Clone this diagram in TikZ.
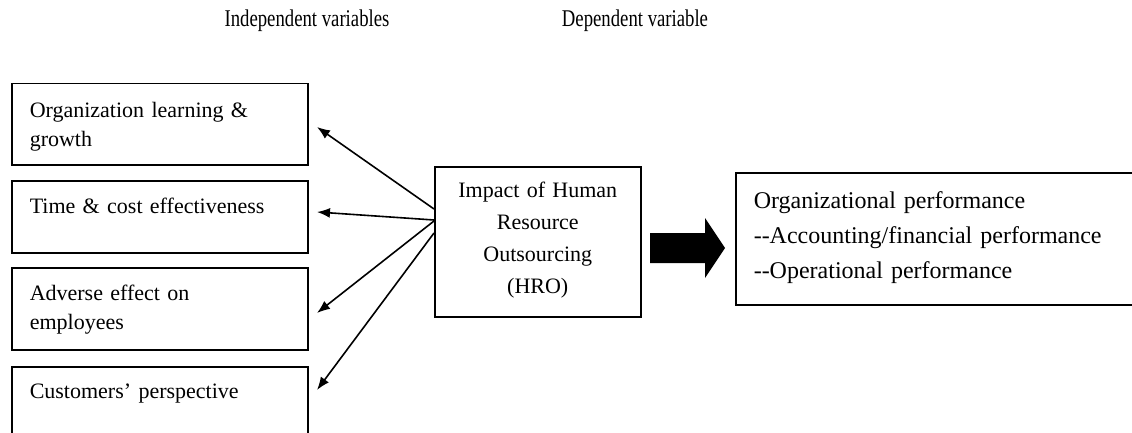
\documentclass[tikz,border=0pt]{standalone}
\usepackage{fontspec}
\setmainfont{Liberation Serif}
\newfontfamily\headfont{Liberation Serif}[FakeStretch=0.78]
\usetikzlibrary{arrows.meta}

\begin{document}
\begin{tikzpicture}[x=1pt, y=-1pt, >={Latex[length=13pt, width=10pt]},
	leftbox/.style={draw, line width=1.5pt, anchor=north west, inner xsep=18pt, inner ysep=0pt, minimum width=296pt, text width=260pt, align=left, font=\fontsize{22}{29}\selectfont},
	headtext/.style={anchor=base, font=\headfont\fontsize{24}{28}\selectfont}]
	\useasboundingbox (0,0) rectangle (1132,433);
	\node[headtext] (indep) at (307,27) {Independent variables};
	\node[headtext] (dep) at (635,27) {Dependent variable};
	\node[leftbox, text height=34pt, text depth=47pt] (learn) at (11,83) {Organization learning \&\\growth};
	\node[leftbox, text height=33pt, text depth=39pt] (cost) at (11,180) {Time \& cost effectiveness};
	\node[leftbox, text height=33pt, text depth=49pt] (adverse) at (11,267) {Adverse effect on\\employees};
	\node[leftbox, text height=32pt, text depth=42pt] (cust) at (11,366) {Customers' perspective};
	\node[draw, line width=1.5pt, anchor=north west, inner xsep=13pt, inner ysep=0pt, text width=180pt, align=center, text height=31pt, text depth=119pt, font=\fontsize{22}{32}\selectfont] (hro) at (434,166) {Impact of Human\\Resource\\Outsourcing\\(HRO)};
	\node[draw, line width=1.5pt, anchor=north west, inner xsep=18pt, inner ysep=0pt, text width=369pt, align=left, text height=36pt, text depth=96pt, font=\fontsize{24}{35}\selectfont] (perf) at (735,172) {Organizational performance\\-{}-Accounting/financial performance\\-{}-Operational performance};
	% arrows out of the HRO box
	\coordinate (o1) at (434,209);
	\coordinate (o2) at (434,220);
	\coordinate (o3) at (434,221);
	\coordinate (o4) at (434,233);
	\coordinate (t1) at (317,127);
	\coordinate (t2) at (317,212);
	\coordinate (t3) at (317,313);
	\coordinate (t4) at (317,390);
	\draw[->, line width=1.6pt] (o1) -- (t1);
	\draw[->, line width=1.6pt] (o2) -- (t2);
	\draw[->, line width=1.6pt] (o3) -- (t3);
	\draw[->, line width=1.6pt] (o4) -- (t4);
	% block arrow to the performance box
	\fill (650,233) -- (705,233) -- (705,218) -- (725,248) -- (705,278) -- (705,263) -- (650,263) -- cycle;
\end{tikzpicture}
\end{document}
